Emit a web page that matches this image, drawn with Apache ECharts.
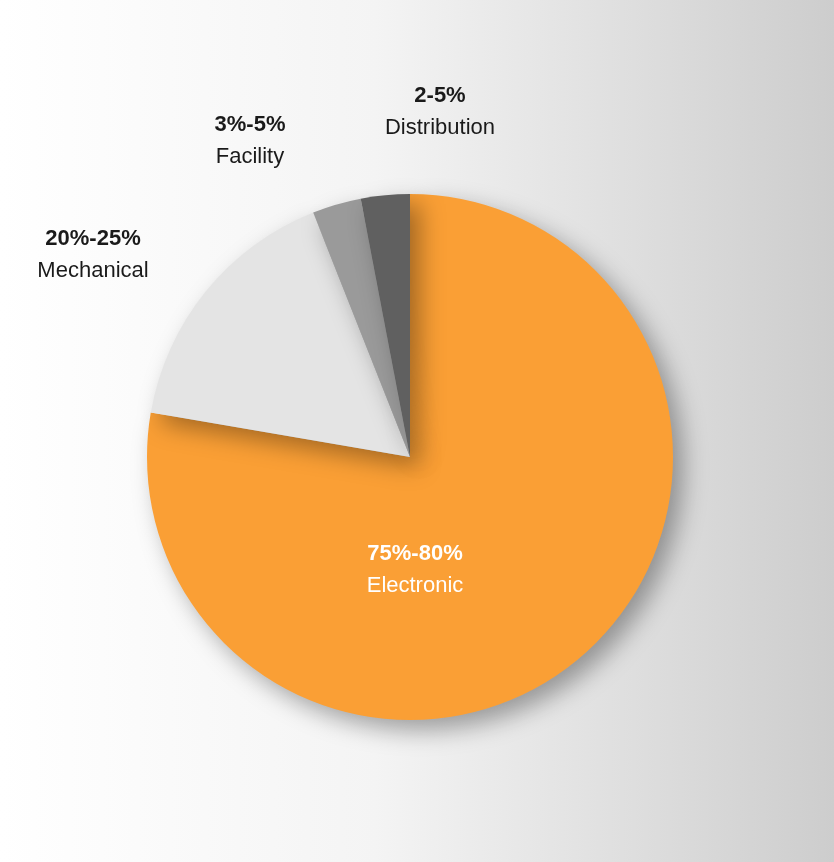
<!DOCTYPE html>
<html>
<head>
<meta charset="utf-8">
<script src="https://cdn.jsdelivr.net/npm/echarts@6/dist/echarts.min.js"></script>
<style>
html,body{margin:0;padding:0;}
#chart{width:834px;height:862px;background:linear-gradient(to right,#ffffff 0%,#f4f4f4 45%,#cdcdcd 100%);}
</style>
</head>
<body>
<div id="chart"></div>
<script>
var names = ['Electronic', 'Mechanical', 'Facility', 'Distribution'];
var ranges = ['75%-80%', '20%-25%', '3%-5%', '2-5%'];
var values = [77.7, 16.3, 3.0, 3.0];
var colors = ['#FA9F35', '#E4E4E4', '#9A9A9A', '#606060'];
var labelPos = [[415, 570], [93, 255], [250, 141], [440, 112]];

var myChart = echarts.init(document.getElementById('chart'));
var data = [];
for (var i = 0; i < names.length; i++) {
    data.push({
        name: names[i],
        value: values[i],
        range: ranges[i],
        itemStyle: {color: colors[i]},
        label: {color: i === 0 ? '#ffffff' : '#1a1a1a'}
    });
}
var option = {
    series: [{
        type: 'pie',
        center: [410, 457],
        radius: 263,
        startAngle: 90,
        clockwise: true,
        silent: true,
        itemStyle: {
            shadowColor: 'rgba(0,0,0,0.35)',
            shadowBlur: 25,
            shadowOffsetX: 10,
            shadowOffsetY: 10
        },
        labelLine: {show: false},
        label: {
            show: true,
            position: 'outside',
            fontFamily: 'Liberation Sans, Arial, sans-serif',
            formatter: function (p) {
                return '{b|' + p.data.range + '}\n{n|' + p.name + '}';
            },
            rich: {
                b: {fontSize: 22, fontWeight: 'bold', lineHeight: 32, align: 'center'},
                n: {fontSize: 22, lineHeight: 32, align: 'center'}
            }
        },
        labelLayout: function (p) {
            return {x: labelPos[p.dataIndex][0], y: labelPos[p.dataIndex][1], align: 'center', verticalAlign: 'middle'};
        },
        data: data
    }]
};
myChart.setOption(option);
</script>
</body>
</html>
